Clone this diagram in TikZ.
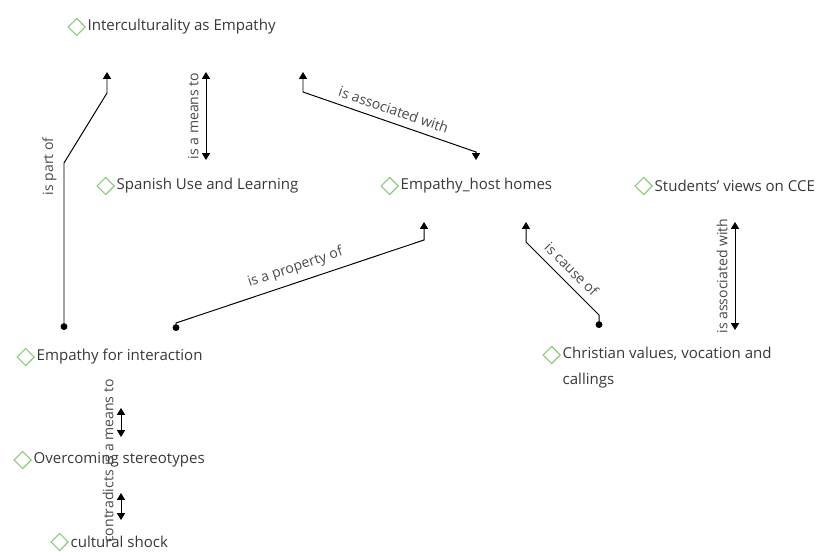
\documentclass[tikz,border=0pt]{standalone}
\usepackage{fontspec}
\setmainfont{Open Sans}
\usetikzlibrary{positioning,shapes,arrows,arrows.meta}

\definecolor{conceptgreen}{HTML}{8CCB7C}
\definecolor{conceptgray}{HTML}{383838}
\definecolor{linkgray}{HTML}{4A4A4A}

\tikzset{
  conceptmark/.style={diamond, draw=conceptgreen, line width=0.8pt, minimum size=0.44cm, inner sep=0pt},
  conceptbase/.style={anchor=west, inner sep=1pt, text=conceptgray, font=\fontsize{10.7}{13}\selectfont, label distance=0.1cm},
  concept/.style={conceptbase, label={[conceptmark]left:}},
  link/.style={line width=0.7pt},
  linklabel/.style={font=\fontsize{10}{12}\selectfont, text=linkgray, sloped, above=4pt, inner sep=1pt},
  both/.style={link, {Triangle[width=0.2cm,length=0.17cm]}-{Triangle[width=0.2cm,length=0.17cm]}},
  dotto/.style={link, {Circle[length=0.17cm]}-{Triangle[width=0.2cm,length=0.17cm]}},
  todot/.style={link, {Triangle[width=0.2cm,length=0.17cm]}-{Circle[length=0.17cm]}}
}

\begin{document}
\begin{tikzpicture}[x=0.025cm,y=-0.025cm]
  \useasboundingbox (0,0) rectangle (819,551);

  %  Define nodes
  \node[concept] (ice) at (86,27) {Interculturality as Empathy};
  \node[concept] (sul) at (115,186) {Spanish Use and Learning};
  \node[concept] (ehh) at (399,186) {Empathy\_host homes};
  \node[concept] (svc) at (653,186) {Students' views on CCE};
  \node[concept] (efi) at (35,357) {Empathy for interaction};
  \node[conceptbase, align=left, font=\fontsize{10.7}{18.5}\selectfont,
        label={[conceptmark,yshift=0.325cm]left:}] (cvv) at (561,368)
        {Christian values, vocation and\\callings};
  \node[concept] (ost) at (32,460) {Overcoming stereotypes};
  \node[concept] (csh) at (69,542) {cultural shock};

  % Connect the nodes
  \draw[dotto] ([shift={(29,-27)}]efi.west) -- node[linklabel, pos=0.98] {is part of} ++(0,-167)
    -- ++(43,-70) -- ([shift={(21,45)}]ice.west);
  \draw[both] ([shift={(91,-26)}]sul.west) -- node[linklabel] {is a means to} ([shift={(120,45)}]ice.west);
  \draw[both] ([shift={(217,45)}]ice.west) -- ++(0,20)
    -- node[linklabel] {is associated with} ++(173,60) -- ([shift={(77,-26)}]ehh.west);
  \draw[dotto] ([shift={(141,-26)}]efi.west) -- ++(0,-8)
    -- node[linklabel] {is a property of} ++(248,-83) -- ([shift={(25,36)}]ehh.west);
  \draw[todot] ([shift={(127,36)}]ehh.west) -- ++(0,20)
    -- node[linklabel] {is cause of} ++(73,73) -- ([shift={(38,-40)}]cvv.west);
  \draw[both] ([shift={(174,-38)}]cvv.west) -- node[linklabel] {is associated with} ([shift={(82,36)}]svc.west);
  \draw[both] ([shift={(89,-23)}]ost.west) -- node[linklabel] {is a means to} ([shift={(86,51)}]efi.west);
  \draw[both] ([shift={(52,-22)}]csh.west) -- node[linklabel] {contradicts} ([shift={(89,33)}]ost.west);

\end{tikzpicture}
\end{document}
